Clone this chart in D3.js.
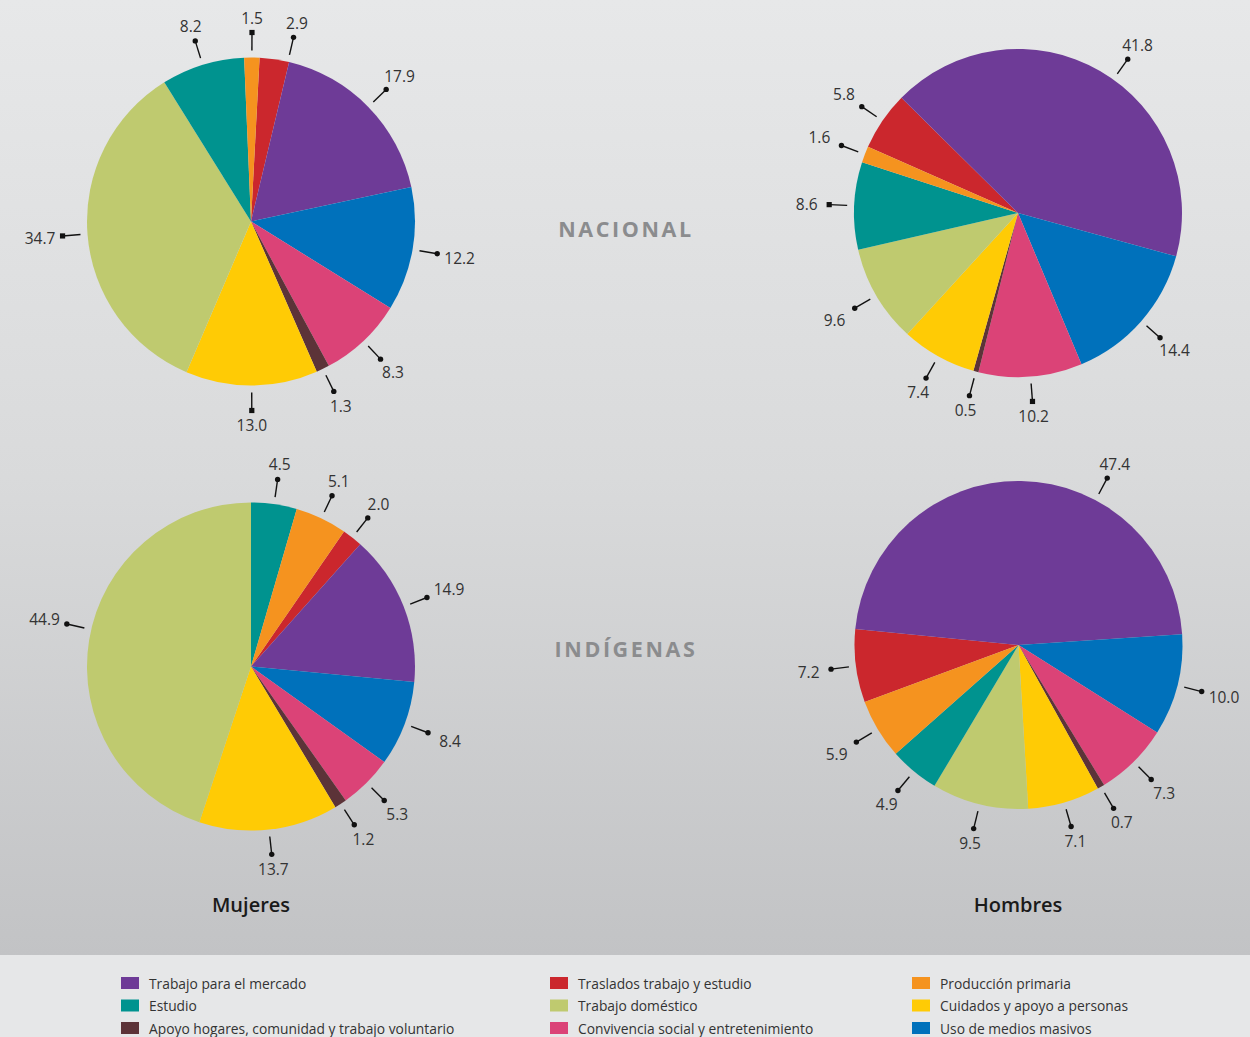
<!DOCTYPE html>
<html>
<head>
<meta charset="utf-8">
<script src="https://cdn.jsdelivr.net/npm/d3@7/dist/d3.min.js"></script>
<style>
  html, body { margin: 0; padding: 0; }
  body { width: 1250px; height: 1037px; overflow: hidden; }
  svg { display: block; }
</style>
</head>
<body>
<svg id="chart" width="1250" height="1037"></svg>
<script>
// ---- data ----
const categories = [
  "Trabajo para el mercado",
  "Traslados trabajo y estudio",
  "Producción primaria",
  "Estudio",
  "Trabajo doméstico",
  "Cuidados y apoyo a personas",
  "Apoyo hogares, comunidad y trabajo voluntario",
  "Convivencia social y entretenimiento",
  "Uso de medios masivos"
];
const colors = ["#6e3b97", "#cb272d", "#f5931f", "#00938f", "#bfca6f", "#ffcb05", "#5c3338", "#db4377", "#0071bb"];
const mujeresNacional  = [17.9, 2.9, 1.5, 8.2, 34.7, 13.0, 1.3, 8.3, 12.2];
const hombresNacional  = [41.8, 5.8, 1.6, 8.6, 9.6, 7.4, 0.5, 10.2, 14.4];
const mujeresIndigenas = [14.9, 2.0, 5.1, 4.5, 44.9, 13.7, 1.2, 5.3, 8.4];
const hombresIndigenas = [47.4, 7.2, 5.9, 4.9, 9.5, 7.1, 0.7, 7.3, 10.0];
const sectionTitles = ["NACIONAL", "INDÍGENAS"];
const columnTitles = ["Mujeres", "Hombres"];

// clockwise drawing order of categories (indices into categories)
const sliceOrder = [1, 0, 8, 7, 6, 5, 4, 3, 2];

// ---- layout ----
const W = 1250, H = 1037, legendTop = 955;
const R = 164;
// start: angle (deg, clockwise from top) where the first slice begins
// leaderAngle: per-category leader direction overrides (deg), layout only
const pies = [
  { values: mujeresNacional,  cx: 251,    cy: 221.5, start: 3,      leaderAngle: { 1: 13 } },
  { values: hombresNacional,  cx: 1018,   cy: 213,   start: -66.2,  leaderAngle: { 0: 35.5 } },
  { values: mujeresIndigenas, cx: 251,    cy: 666.5, start: 34.56,  leaderAngle: { 4: 283 } },
  { values: hombresIndigenas, cx: 1018.5, cy: 645,   start: -110.3, leaderAngle: { 0: 28 } }
];

const svg = d3.select("#chart");
const defs = svg.append("defs");
const grad = defs.append("linearGradient").attr("id", "bg").attr("x1", 0).attr("y1", 0).attr("x2", 0).attr("y2", 1);
grad.append("stop").attr("offset", "0%").attr("stop-color", "#e7e8e9");
grad.append("stop").attr("offset", "50%").attr("stop-color", "#d9dadb");
grad.append("stop").attr("offset", "100%").attr("stop-color", "#c2c3c5");

svg.append("rect").attr("x", 0).attr("y", 0).attr("width", W).attr("height", legendTop).attr("fill", "url(#bg)");
svg.append("rect").attr("x", 0).attr("y", legendTop).attr("width", W).attr("height", H - legendTop).attr("fill", "#e6e7e8");

const fmt = d3.format(".1f");
const arc = d3.arc().innerRadius(0).outerRadius(R);
const labelFont = "'Open Sans', 'Noto Sans', sans-serif";

pies.forEach(p => {
  const s = p.start * Math.PI / 180;
  const pie = d3.pie().sort(null).value(d => d.v).startAngle(s).endAngle(s + 2 * Math.PI);
  const data = sliceOrder.map(i => ({ i, v: p.values[i] }));
  const arcs = pie(data);
  const g = svg.append("g").attr("transform", `translate(${p.cx},${p.cy})`);
  g.selectAll("path.slice").data(arcs).join("path")
    .attr("class", "slice")
    .attr("d", arc)
    .attr("fill", d => colors[d.data.i]);

  const lg = g.append("g");
  arcs.forEach(a => {
    let m = (a.startAngle + a.endAngle) / 2;
    if (p.leaderAngle[a.data.i] !== undefined) m = p.leaderAngle[a.data.i] * Math.PI / 180;
    const ux = Math.sin(m), uy = -Math.cos(m);
    const r0 = R + 7, r1 = R + 25;
    const x0 = ux * r0, y0 = uy * r0, x1 = ux * r1, y1 = uy * r1;
    lg.append("line").attr("x1", x0).attr("y1", y0).attr("x2", x1).attr("y2", y1)
      .attr("stroke", "#111").attr("stroke-width", 1.4);
    const deg = ((m * 180 / Math.PI) % 90 + 90) % 90;
    const nearAxis = deg < 6 || deg > 84;
    if (nearAxis) {
      lg.append("rect").attr("x", x1 - 2.6).attr("y", y1 - 2.6).attr("width", 5.2).attr("height", 5.2).attr("fill", "#111");
    } else {
      lg.append("circle").attr("cx", x1).attr("cy", y1).attr("r", 2.7).attr("fill", "#111");
    }
    const hw = 16, hh = 8.5, gap = 6.5;
    const ax = Math.abs(ux), ay = Math.abs(uy);
    const t = Math.min(ax > 1e-6 ? hw / ax : 1e9, ay > 1e-6 ? hh / ay : 1e9) + gap;
    const tx = x1 + ux * t, ty = y1 + uy * t;
    lg.append("text").attr("x", tx).attr("y", ty)
      .attr("text-anchor", "middle").attr("dominant-baseline", "central")
      .attr("font-family", labelFont).attr("font-size", 15.5).attr("fill", "#333")
      .text(fmt(a.data.v));
  });
});

// section titles
svg.selectAll("text.section").data(sectionTitles).join("text")
  .attr("class", "section")
  .attr("x", 626).attr("y", (d, i) => i === 0 ? 237 : 657)
  .attr("text-anchor", "middle")
  .attr("font-family", "'Open Sans', sans-serif").attr("font-weight", 700)
  .attr("font-size", 21.5).attr("letter-spacing", 2.6).attr("fill", "#8b8c8e")
  .text(d => d);

// column titles
svg.selectAll("text.col").data(columnTitles).join("text")
  .attr("class", "col")
  .attr("x", (d, i) => i === 0 ? 251 : 1018).attr("y", 912)
  .attr("text-anchor", "middle")
  .attr("font-family", "'Open Sans', sans-serif").attr("font-weight", 600)
  .attr("font-size", 20).attr("fill", "#1a1a1a")
  .text(d => d);

// legend
const colX = [121, 550, 912];
const rowY = [983, 1005.5, 1028];
const lgd = svg.append("g");
categories.forEach((c, i) => {
  const col = i % 3, row = Math.floor(i / 3);
  const x = colX[col], y = rowY[row];
  lgd.append("rect").attr("x", x).attr("y", y - 6).attr("width", 18).attr("height", 12).attr("fill", colors[i]);
  lgd.append("text").attr("x", x + 28).attr("y", y).attr("dominant-baseline", "central")
    .attr("font-family", "'Open Sans', sans-serif").attr("font-size", 13.8).attr("fill", "#333")
    .text(c);
});
</script>
</body>
</html>
